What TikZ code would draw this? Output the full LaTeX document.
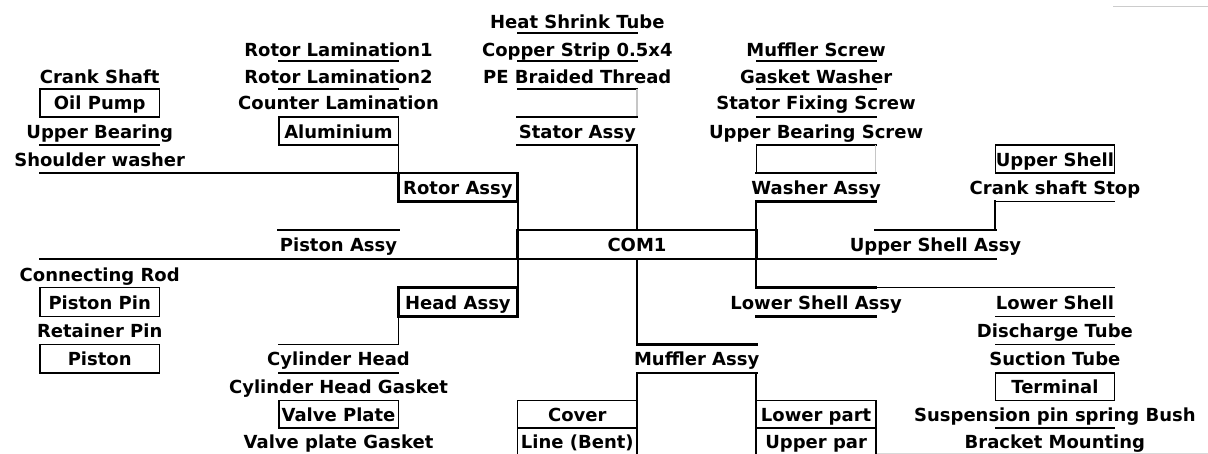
\documentclass[tikz,border=0pt]{standalone}
\usepackage{fontspec}
\setmainfont{DejaVu Sans}
\begin{document}
\begin{tikzpicture}[x=1pt,y=-1pt,
  txt/.style={font=\fontsize{18}{20}\selectfont\bfseries, anchor=base, inner sep=0pt},
  lnthin/.style={line width=1.4pt, line cap=rect},
  lnmed/.style={line width=2.1pt, line cap=rect},
  lnbold/.style={line width=2.9pt, line cap=rect},
  lnfaint/.style={line width=1.2pt, gray!45}]
\useasboundingbox (0,0) rectangle (1208,454);
\fill[white] (0,0) rectangle (1208,454);

% ---------- column 1 ----------
\node[txt] (crankshaft) at (99.7,83.5) {Crank Shaft};
\node[txt] (oilpump) at (99.7,110) {Oil Pump};
\node[txt] (upperbearing) at (99.7,138.5) {Upper Bearing};
\node[txt] (shoulder) at (99.7,167) {Shoulder washer};
\node[txt] (conrod) at (99.7,281.5) {Connecting Rod};
\node[txt] (pistonpin) at (99.7,309.5) {Piston Pin};
\node[txt] (retainer) at (99.7,337.5) {Retainer Pin};
\node[txt] (piston) at (99.7,366) {Piston};
\draw[lnthin] (40,89) rectangle (159.4,117);
\draw[lnthin] (40,145) -- (159.4,145);
\draw[lnthin] (40,173) -- (398.2,173);
\draw[lnthin] (40,259) -- (517.6,259);
\draw[lnthin] (40,287.5) rectangle (159.4,316.5);
\draw[lnthin] (40,344.5) rectangle (159.4,373);

% ---------- column 2 ----------
\node[txt] (rl1) at (338.5,57) {Rotor Lamination1};
\node[txt] (rl2) at (338.5,83.5) {Rotor Lamination2};
\node[txt] (counterlam) at (338.5,110) {Counter Lamination};
\node[txt] (alu) at (338.5,138.5) {Aluminium};
\node[txt] (pistonassy) at (338.5,252) {Piston Assy};
\node[txt] (cylhead) at (338.5,366) {Cylinder Head};
\node[txt] (cylgasket) at (338.5,393.5) {Cylinder Head Gasket};
\node[txt] (valveplate) at (338.5,421.5) {Valve Plate};
\node[txt] (vpgasket) at (338.5,448.5) {Valve plate Gasket};
\draw[lnthin] (278.8,61) -- (398.2,61);
\draw[lnthin] (278.8,89) -- (398.2,89);
\draw[lnthin] (278.8,117) rectangle (398.2,145);
\draw[lnthin] (398.2,145) -- (398.2,173);
\draw[lnbold] (278.8,230) -- (398.2,230);
\draw[lnbold] (278.8,259) -- (398.2,259);
\draw[lnthin] (398.2,316.5) -- (398.2,344.5) -- (278.8,344.5);
\draw[lnthin] (278.8,373) -- (398.2,373);
\draw[lnthin] (278.8,400.5) rectangle (398.2,428);

% ---------- column 2.5 ----------
\node[txt] (rotorassy) at (457.9,195) {Rotor Assy};
\node[txt] (headassy) at (457.9,309.5) {Head Assy};
\draw[lnbold] (398.2,173) rectangle (517.6,201.5);
\draw[lnmed] (517.6,201.5) -- (517.6,230);
\draw[lnbold] (398.2,287.5) rectangle (517.6,316.5);
\draw[lnmed] (517.6,259) -- (517.6,287.5);

% ---------- column 3 ----------
\node[txt] (heatshrink) at (577.3,29) {Heat Shrink Tube};
\node[txt] (copper) at (577.3,57) {Copper Strip 0.5x4};
\node[txt] (pebraid) at (577.3,83.5) {PE Braided Thread};
\node[txt] (stator) at (577.3,138.5) {Stator Assy};
\node[txt] (cover) at (577.3,421.5) {Cover};
\node[txt] (linebent) at (577.3,448.5) {Line (Bent)};
\draw[lnthin] (517.6,33) -- (637,33);
\draw[lnthin] (517.6,61) -- (637,61);
\draw[lnthin] (517.6,89) -- (637,89);
\draw[lnfaint] (637,89) -- (637,117);
\draw[lnbold] (517.6,117) -- (637,117);
\draw[lnbold] (517.6,145) -- (637,145);
\draw[lnmed] (637,145) -- (637,230);
\draw[lnthin] (517.6,400.5) rectangle (637,456);
\draw[lnthin] (517.6,428) -- (637,428);

% ---------- centre ----------
\node[txt] (com1) at (637,252) {COM1};
\draw[lnbold] (517.6,230) rectangle (756.4,259);
\draw[lnmed] (637,259) -- (637,344.5);
\draw[lnbold] (637,344.5) -- (756.4,344.5);
\node[txt] (muffler) at (696.7,366) {Muffler Assy};
\draw[lnbold] (637,373) -- (756.4,373);
\draw[lnmed] (637,373) -- (637,456);
\draw[lnmed] (756.4,373) -- (756.4,456);

% ---------- column 4 ----------
\node[txt] (mscrew) at (816.1,57) {Muffler Screw};
\node[txt] (gwasher) at (816.1,83.5) {Gasket Washer};
\node[txt] (sfscrew) at (816.1,110) {Stator Fixing Screw};
\node[txt] (ubscrew) at (816.1,138.5) {Upper Bearing Screw};
\node[txt] (washerassy) at (816.1,195) {Washer Assy};
\node[txt] (lowershellassy) at (816.1,309.5) {Lower Shell Assy};
\node[txt] (lowerpart) at (816.1,421.5) {Lower part};
\node[txt] (upperpar) at (816.1,448.5) {Upper par};
\draw[lnthin] (756.4,61) -- (875.8,61);
\draw[lnthin] (756.4,89) -- (875.8,89);
\draw[lnthin] (756.4,117) -- (875.8,117);
\draw[lnthin] (756.4,173) -- (756.4,145) -- (875.8,145);
\draw[lnfaint] (875.8,145) -- (875.8,173);
\draw[lnbold] (756.4,173) -- (875.8,173);
\draw[lnbold] (756.4,201.5) -- (875.8,201.5);
\draw[lnmed] (756.4,201.5) -- (756.4,230);
\draw[lnthin] (756.4,259) -- (875.8,259);
\draw[lnmed] (756.4,259) -- (756.4,287.5);
\draw[lnbold] (756.4,287.5) -- (875.8,287.5);
\draw[lnbold] (756.4,316.5) -- (875.8,316.5);
\draw[lnthin] (875.8,287.5) -- (1114.6,287.5);
\draw[lnthin] (756.4,400.5) rectangle (875.8,456);
\draw[lnthin] (756.4,428) -- (875.8,428);

% ---------- column 4.5 ----------
\node[txt] (uppershellassy) at (935.5,252) {Upper Shell Assy};
\draw[lnbold] (875.8,230) -- (995.2,230);
\draw[lnmed] (995.2,230) -- (995.2,201.5);
\draw[lnbold] (875.8,259) -- (995.2,259);

% ---------- column 5 ----------
\node[txt] (uppershell) at (1054.9,167) {Upper Shell};
\node[txt] (ccstop) at (1054.9,195) {Crank shaft Stop};
\node[txt] (lowershell) at (1054.9,309.5) {Lower Shell};
\node[txt] (discharge) at (1054.9,337.5) {Discharge Tube};
\node[txt] (suction) at (1054.9,366) {Suction Tube};
\node[txt] (terminal) at (1054.9,393.5) {Terminal};
\node[txt] (suspension) at (1054.9,421.5) {Suspension pin spring Bush};
\node[txt] (bracket) at (1054.9,448.5) {Bracket Mounting};
\draw[lnthin] (995.2,145) rectangle (1114.6,173);
\draw[lnthin] (995.2,201.5) -- (1114.6,201.5);
\draw[lnthin] (995.2,316.5) -- (1114.6,316.5);
\draw[lnthin] (995.2,344.5) -- (1114.6,344.5);
\draw[lnthin] (995.2,373) rectangle (1114.6,400.5);
\draw[lnthin] (995.2,428) -- (1114.6,428);

% faint screen edges
\draw[line width=1pt, gray!40] (1113,7) -- (1208,7);
\draw[line width=1pt, gray!30] (877,453) -- (1208,453);
\end{tikzpicture}
\end{document}
